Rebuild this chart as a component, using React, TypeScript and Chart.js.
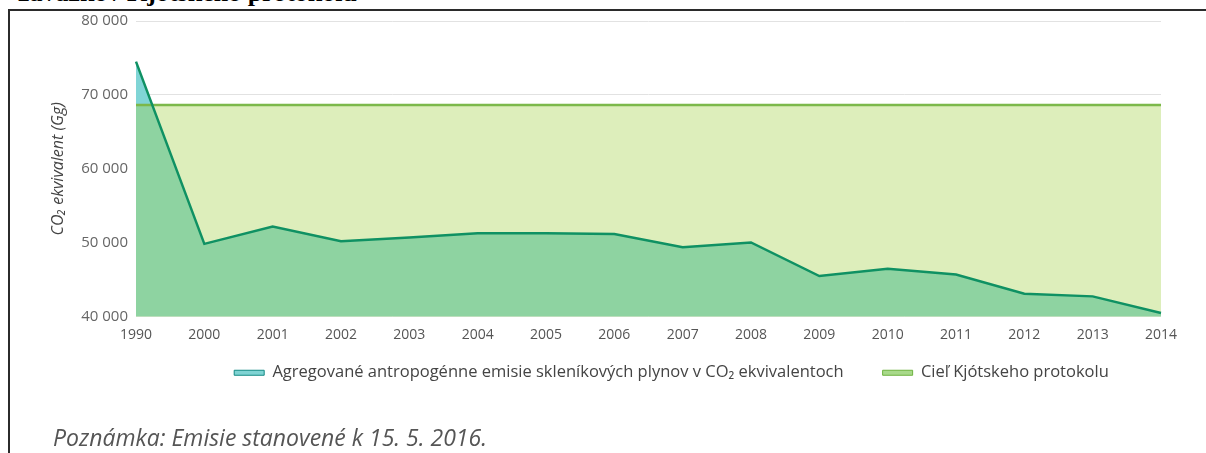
import React, { useEffect, useRef } from 'react';
import { Chart, registerables } from 'chart.js';

Chart.register(...registerables);

const years = ['1990', '2000', '2001', '2002', '2003', '2004', '2005', '2006', '2007', '2008', '2009', '2010', '2011', '2012', '2013', '2014'];
const emissions = [74500, 49850, 52200, 50200, 50700, 51300, 51300, 51200, 49400, 50050, 45500, 46500, 45700, 43100, 42750, 40500];
const kyotoTarget = [68650, 68650, 68650, 68650, 68650, 68650, 68650, 68650, 68650, 68650, 68650, 68650, 68650, 68650, 68650, 68650];
const yMin = 40000;
const yMax = 80000;
const yStep = 10000;

const emissionsLabel = 'Agregované antropogénne emisie skleníkových plynov v CO₂ ekvivalentoch';
const kyotoLabel = 'Cieľ Kjótskeho protokolu';
const yTitle = 'CO₂ ekvivalent (Gg)';
const headTitle = 'záväzkov Kjótskeho protokolu';
const noteText = 'Poznámka: Emisie stanovené k 15. 5. 2016.';

const FONT = "'Open Sans', 'DejaVu Sans', sans-serif";

function fmt(v: number): string {
  return String(v).replace(/\B(?=(\d{3})+(?!\d))/g, ' ');
}

export default function App() {
  const ref = useRef<HTMLCanvasElement | null>(null);

  useEffect(() => {
    if (!ref.current) return;
    const shiftLegend = {
      id: 'shiftLegend',
      afterLayout(chart: any) {
        const lg = chart.legend;
        if (lg) {
          lg.left += 91;
          lg.right += 91;
          lg.top -= 28;
          lg.bottom -= 28;
        }
      },
    };
    const chart = new Chart(ref.current, {
      type: 'line',
      data: {
        labels: years,
        datasets: [
          {
            label: emissionsLabel,
            data: emissions,
            borderColor: '#0f9163',
            backgroundColor: '#8ed3a1',
            borderWidth: 2.5,
            pointRadius: 0,
            tension: 0,
            fill: 'origin',
            order: 2,
          },
          {
            label: kyotoLabel,
            data: kyotoTarget,
            borderColor: '#7cb84a',
            backgroundColor: '#ddeebb',
            borderWidth: 2.5,
            pointRadius: 0,
            tension: 0,
            fill: 'origin',
            order: 3,
          },
          {
            label: 'overlay',
            data: emissions,
            borderColor: 'rgba(0,0,0,0)',
            backgroundColor: 'rgba(0,0,0,0)',
            borderWidth: 0,
            pointRadius: 0,
            tension: 0,
            fill: { target: 1, above: '#80d5d6', below: 'rgba(0,0,0,0)' },
            order: 1,
          },
        ],
      },
      options: {
        responsive: false,
        animation: false,
        layout: { padding: { left: 0, right: 45, top: 21, bottom: 11 } },
        plugins: {
          filler: { propagate: false, drawTime: 'beforeDatasetsDraw' },
          tooltip: { enabled: false },
          legend: {
            position: 'bottom',
            labels: {
              boxWidth: 30,
              boxHeight: 5,
              padding: 39,
              color: '#444',
              font: { family: FONT, size: 16.5 },
              generateLabels: (c: any) => {
                const base = (Chart as any).defaults.plugins.legend.labels.generateLabels(c);
                return base
                  .filter((it: any) => it.datasetIndex !== 2)
                  .map((it: any) => ({
                    ...it,
                    fillStyle: it.datasetIndex === 0 ? '#7fd3d3' : '#a8d98a',
                    strokeStyle: it.datasetIndex === 0 ? '#138a84' : '#6db33f',
                    lineWidth: 1,
                  }));
              },
            },
          },
        },
        scales: {
          x: {
            grid: { display: false, drawTicks: false },
            border: { display: false },
            ticks: { color: '#555', padding: 10, maxRotation: 0, autoSkip: false, font: { family: FONT, size: 14 } },
          },
          y: {
            min: yMin,
            max: yMax,
            grid: { color: '#e2e2e2', drawTicks: false },
            border: { display: false },
            ticks: {
              stepSize: yStep,
              padding: 8,
              color: '#666',
              font: { family: FONT, size: 15 },
              callback: (v: any) => fmt(Number(v)),
            },
            title: {
              display: true,
              text: yTitle,
              color: '#444',
              font: { family: FONT, size: 16, style: 'italic' },
              padding: { top: 49, bottom: 0 },
            },
            afterFit: (s: any) => { s.width = 136; },
          },
        },
      },
      plugins: [shiftLegend],
    } as any);
    return () => chart.destroy();
  }, []);

  return (
    <div style={{ position: 'absolute', left: 0, top: 0, width: 1206, height: 453, overflow: 'hidden', background: '#fff' }}>
      <div
        style={{
          position: 'absolute',
          right: 849,
          top: -20,
          whiteSpace: 'nowrap',
          font: "bold 26px 'Liberation Serif', 'Times New Roman', serif",
          lineHeight: '26px',
          color: '#000',
        }}
      >
        {headTitle}
      </div>
      <div
        style={{
          position: 'absolute',
          left: 8,
          top: 9,
          width: 1400,
          height: 600,
          borderTop: '2px solid #2b2b2b',
          borderLeft: '2px solid #2b2b2b',
        }}
      />
      <canvas ref={ref} width={1206} height={430} style={{ position: 'absolute', left: 0, top: 0, display: 'block' }} />
      <div
        style={{
          position: 'absolute',
          left: 53,
          top: 423,
          whiteSpace: 'nowrap',
          fontFamily: FONT,
          fontStyle: 'italic',
          fontSize: 23,
          lineHeight: '28px',
          color: '#555',
        }}
      >
        {noteText}
      </div>
    </div>
  );
}
